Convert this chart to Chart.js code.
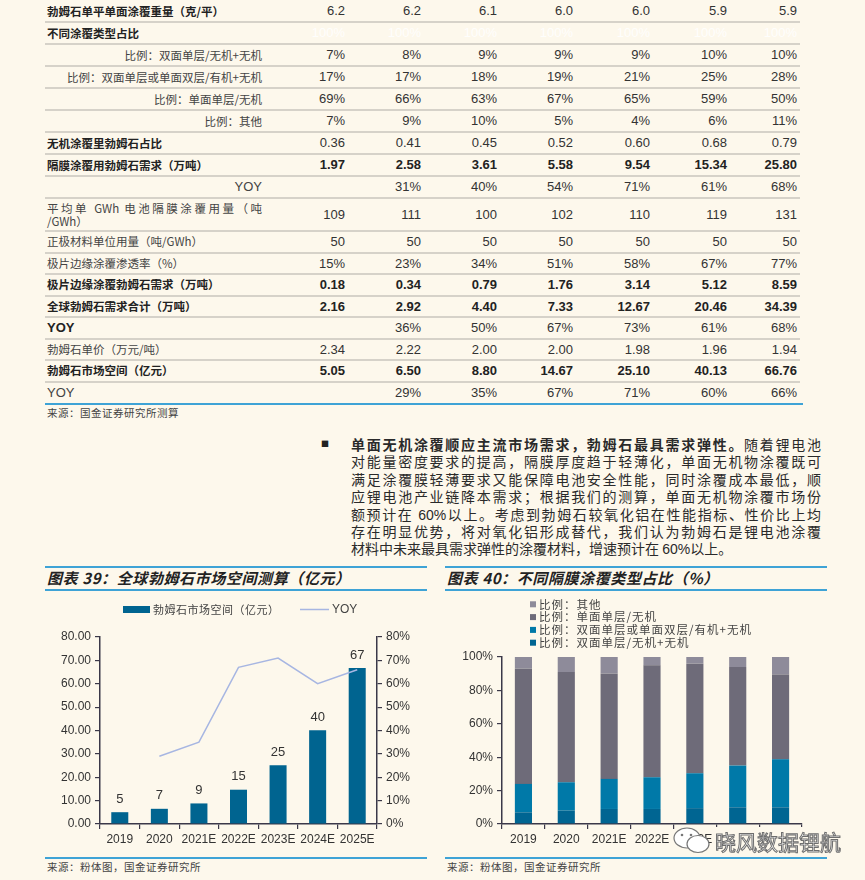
<!DOCTYPE html>
<html>
<head>
<meta charset="utf-8">
<script src="https://cdn.jsdelivr.net/npm/chart.js@4.4.0/dist/chart.umd.min.js"></script>
<style>
  html, body { margin: 0; padding: 0; }
  body { width: 865px; height: 880px; background: #fdf8ec; position: relative; overflow: hidden;
         font-family: "Noto Sans CJK SC", "Liberation Sans", sans-serif; color: #333; }
  .abs { position: absolute; }
  .row { position: absolute; left: 45px; width: 755px; border-bottom: 2px solid #d6d2c9; box-sizing: border-box; }
  .lbl { position: absolute; left: 2px; width: 215px; font-size: 11.5px; color: #444; white-space: nowrap; }
  .lbl.b { font-weight: bold; color: #222; }
  .lbl.r { text-align: right; }
  .val { position: absolute; font-family: "Liberation Sans", Arial, sans-serif; font-size: 13px; color: #333; text-align: right; width: 60px; }
  .val.b { font-weight: bold; color: #222; }
  .val.faint { color: rgba(255,255,255,0.9); }
  .para div { height: 17.4px; line-height: 17.4px; font-size: 14px; color: #2a2a2a; white-space: nowrap; }
  .para .j { text-align: justify; text-align-last: justify; }
  .num { font-family: "Liberation Sans", Arial, sans-serif; }
  .rule { position: absolute; height: 2px; background: #3ea3d6; }
  .title { position: absolute; font-size: 15px; font-weight: bold; font-style: italic; color: #222; letter-spacing: 0.6px; }
  .src { position: absolute; font-size: 10.5px; color: #444; letter-spacing: 0.5px; }
</style>
</head>
<body>

<div id="table"></div>
<div class="rule" style="left:45px; top:403px; width:758px;"></div>
<div class="src" style="left:47px; top:405px;">来源：国金证券研究所测算</div>

<div class="abs" style="left:321px; top:438px; font-size:8px; color:#222;">■</div>
<div class="para abs" style="left:351px; top:436px; width:470px;">
  <div class="j"><b>单面无机涂覆顺应主流市场需求，勃姆石最具需求弹性。</b>随着锂电池</div>
  <div class="j">对能量密度要求的提高，隔膜厚度趋于轻薄化，单面无机物涂覆既可</div>
  <div class="j">满足涂覆膜轻薄要求又能保障电池安全性能，同时涂覆成本最低，顺</div>
  <div class="j">应锂电池产业链降本需求；根据我们的测算，单面无机物涂覆市场份</div>
  <div class="j">额预计在 <span class="num">60%</span>以上。考虑到勃姆石较氧化铝在性能指标、性价比上均</div>
  <div class="j">存在明显优势，将对氧化铝形成替代，我们认为勃姆石是锂电池涂覆</div>
  <div>材料中未来最具需求弹性的涂覆材料，增速预计在 <span class="num">60%</span>以上。</div>
</div>

<div class="rule" style="left:45px; top:566px; width:382px;"></div>
<div class="rule" style="left:45px; top:589px; width:382px;"></div>
<div class="title" style="left:47px; top:567px;">图表 39：全球勃姆石市场空间测算（亿元）</div>
<div class="rule" style="left:445px; top:566px; width:382px;"></div>
<div class="rule" style="left:445px; top:589px; width:382px;"></div>
<div class="title" style="left:447px; top:567px;">图表 40：不同隔膜涂覆类型占比（%）</div>

<canvas id="marketChart" class="abs" width="382" height="255" style="left:45px; top:595px;"></canvas>
<canvas id="shareChart" class="abs" width="382" height="255" style="left:445px; top:595px;"></canvas>

<div class="rule" style="left:45px; top:857px; width:382px;"></div>
<div class="src" style="left:47px; top:859px;">来源：粉体图，国金证券研究所</div>
<div class="rule" style="left:445px; top:857px; width:382px;"></div>
<div class="src" style="left:447px; top:859px;">来源：粉体图，国金证券研究所</div>

<!-- watermark -->
<svg class="abs" style="left:672px; top:826px;" width="42" height="30" viewBox="0 0 42 30">
  <ellipse cx="15" cy="12" rx="13" ry="10" fill="#fff" stroke="#777" stroke-width="1.2"/>
  <ellipse cx="26" cy="18" rx="11" ry="8.5" fill="#fff" stroke="#777" stroke-width="1.2"/>
  <circle cx="10" cy="9" r="1.3" fill="#777"/><circle cx="19" cy="9" r="1.3" fill="#777"/>
</svg>
<div class="abs" style="left:713px; top:827px; padding:0 2px; background:#fdf8ec; font-size:21px; color:#fff; -webkit-text-stroke:1px #6e6e6e; line-height:28px;">晓风数据锂航</div>

<script>
// ---- table data ----
const tableValueRight = [345, 421, 497, 573, 650, 727, 797];
const tableRows = [
  ['勃姆石单平单面涂覆重量（克/平）', ['6.2', '6.2', '6.1', '6.0', '6.0', '5.9', '5.9'], 'head'],
  ['不同涂覆类型占比', ['100%', '100%', '100%', '100%', '100%', '100%', '100%'], 'faint'],
  ['比例：双面单层/无机+无机', ['7%', '8%', '9%', '9%', '9%', '10%', '10%'], 'sub'],
  ['比例：双面单层或单面双层/有机+无机', ['17%', '17%', '18%', '19%', '21%', '25%', '28%'], 'sub'],
  ['比例：单面单层/无机', ['69%', '66%', '63%', '67%', '65%', '59%', '50%'], 'sub'],
  ['比例：其他', ['7%', '9%', '10%', '5%', '4%', '6%', '11%'], 'sub'],
  ['无机涂覆里勃姆石占比', ['0.36', '0.41', '0.45', '0.52', '0.60', '0.68', '0.79'], 'head'],
  ['隔膜涂覆用勃姆石需求（万吨）', ['1.97', '2.58', '3.61', '5.58', '9.54', '15.34', '25.80'], 'bold'],
  ['YOY', ['', '31%', '40%', '54%', '71%', '61%', '68%'], 'sub'],
  ['平均单 GWh 电池隔膜涂覆用量（吨/GWh）', ['109', '111', '100', '102', '110', '119', '131'], 'wrap'],
  ['正极材料单位用量（吨/GWh）', ['50', '50', '50', '50', '50', '50', '50'], 'plain'],
  ['极片边缘涂覆渗透率（%）', ['15%', '23%', '34%', '51%', '58%', '67%', '77%'], 'plain'],
  ['极片边缘涂覆勃姆石需求（万吨）', ['0.18', '0.34', '0.79', '1.76', '3.14', '5.12', '8.59'], 'bold'],
  ['全球勃姆石需求合计（万吨）', ['2.16', '2.92', '4.40', '7.33', '12.67', '20.46', '34.39'], 'bold'],
  ['YOY', ['', '36%', '50%', '67%', '73%', '61%', '68%'], 'head'],
  ['勃姆石单价（万元/吨）', ['2.34', '2.22', '2.00', '2.00', '1.98', '1.96', '1.94'], 'plain'],
  ['勃姆石市场空间（亿元）', ['5.05', '6.50', '8.80', '14.67', '25.10', '40.13', '66.76'], 'bold'],
  ['YOY', ['', '29%', '35%', '67%', '71%', '60%', '66%'], 'plain']
];

// ---- chart data ----
const years = ['2019', '2020', '2021E', '2022E', '2023E', '2024E', '2025E'];
const marketSize = [5.05, 6.50, 8.80, 14.67, 25.10, 40.13, 66.76];
const marketYoy = [null, 29, 35, 67, 71, 60, 66];
const leftTicks = [0, 10, 20, 30, 40, 50, 60, 70, 80];

// stacked shares (they reach 100% in every year)
const shareInorganic2 = [7, 8, 9, 9, 9.5, 10, 10];
const shareOrganic = [17, 17, 18, 19, 20.9, 25, 28.8];
const shareSingle = [69, 66, 63, 67, 65.6, 59, 50.7];
const shareOther = [7, 9, 10, 5, 4, 6, 10.5];

// build the table
const table = document.getElementById("table");
let rowTop = 1;
tableRows.forEach((r, i) => {
  const [label, values, kind] = r;
  const h = i < 9 ? 22 : (i === 9 ? 33 : 21.5);
  const row = document.createElement("div");
  row.className = "row";
  row.style.top = rowTop + "px";
  row.style.height = h + "px";
  if (i === tableRows.length - 1) row.style.borderBottom = "none";

  const lbl = document.createElement("div");
  lbl.className = "lbl";
  if (kind === "head" || kind === "bold" || kind === "faint") lbl.className += " b";
  if (kind === "sub") lbl.className += " r";
  if (label === "YOY") { lbl.style.fontFamily = "'Liberation Sans', Arial, sans-serif"; lbl.style.fontSize = "13px"; }
  if (kind === "wrap") {
    lbl.style.whiteSpace = "normal";
    lbl.style.lineHeight = "13px";
    lbl.style.top = "3px";
    lbl.innerHTML = '<div style="text-align:justify;text-align-last:justify;">平均单 GWh 电池隔膜涂覆用量（吨</div><div>/GWh）</div>';
  } else {
    lbl.textContent = label;
    lbl.style.lineHeight = (h - 2) + "px";
  }
  row.appendChild(lbl);

  values.forEach((v, j) => {
    const s = document.createElement("div");
    s.className = "val";
    if (kind === "bold") s.className += " b";
    if (kind === "faint") s.className += " faint";
    s.style.left = (tableValueRight[j] - 45 - 60) + "px";
    s.style.lineHeight = (h - 2) + "px";
    s.textContent = v;
    row.appendChild(s);
  });
  table.appendChild(row);
  rowTop += h;
});

Chart.defaults.font.family = "'Liberation Sans', Arial, sans-serif";
Chart.defaults.font.size = 12;
Chart.defaults.color = "#333";

const axisColor = "#3b3849";
const barBlue = "#006490";

// value labels above bars
const barLabels = {
  id: "barLabels",
  afterDatasetsDraw(chart) {
    const meta = chart.getDatasetMeta(1);
    const ctx = chart.ctx;
    ctx.save();
    ctx.font = "13px 'Liberation Sans', Arial, sans-serif";
    ctx.fillStyle = "#333";
    ctx.textAlign = "center";
    ctx.textBaseline = "middle";
    meta.data.forEach((bar, i) => {
      ctx.fillText(Math.round(marketSize[i]), bar.x, bar.y - 13);
    });
    ctx.restore();
  }
};

// legend for market chart
const marketLegend = {
  id: "marketLegend",
  afterDraw(chart) {
    const ctx = chart.ctx;
    const ds = chart.data.datasets;
    ctx.save();
    ctx.fillStyle = ds[1].backgroundColor;
    ctx.fillRect(78, 11, 27, 7);
    ctx.font = "11px 'Noto Sans CJK SC'";
    ctx.letterSpacing = "0.5px";
    ctx.fillStyle = "#444";
    ctx.textBaseline = "middle";
    ctx.fillText(ds[1].label, 108, 14.5);
    ctx.strokeStyle = ds[0].borderColor;
    ctx.lineWidth = 1.5;
    ctx.beginPath();
    ctx.moveTo(255, 14.5);
    ctx.lineTo(284, 14.5);
    ctx.stroke();
    ctx.letterSpacing = "0px";
    ctx.font = "12px 'Liberation Sans', Arial, sans-serif";
    ctx.fillText(ds[0].label, 287, 15);
    ctx.restore();
  }
};

// stacked legend, listed top to bottom in reverse order
const shareLegend = {
  id: "shareLegend",
  afterDraw(chart) {
    const ctx = chart.ctx;
    const ds = chart.data.datasets.slice().reverse();
    ctx.save();
    ctx.font = "11.5px 'Noto Sans CJK SC'";
    ctx.letterSpacing = "1px";
    ctx.textBaseline = "middle";
    ds.forEach((d, i) => {
      const y = 9.3 + i * 12.8;
      ctx.fillStyle = d.backgroundColor;
      ctx.fillRect(85, y - 3, 6, 6);
      ctx.fillStyle = "#444";
      ctx.fillText(d.label, 94, y);
    });
    ctx.restore();
  }
};

function fixedWidth(w) { return function (scale) { scale.width = w; }; }
function fixedHeight(h) { return function (scale) { scale.height = h; }; }

const axisGrid = {
  drawOnChartArea: false,
  drawTicks: true,
  tickLength: 5,
  color: axisColor,
  lineWidth: 1.2
};
const axisBorder = { display: true, color: axisColor, width: 1.5 };

new Chart(document.getElementById("marketChart"), {
  data: {
    labels: years,
    datasets: [
      {
        type: "line",
        label: "YOY",
        data: marketYoy,
        yAxisID: "y1",
        borderColor: "#a7b6e2",
        borderWidth: 1.5,
        pointRadius: 0,
        tension: 0,
        spanGaps: false,
        order: 0
      },
      {
        type: "bar",
        label: "勃姆石市场空间（亿元）",
        data: marketSize,
        yAxisID: "y",
        backgroundColor: barBlue,
        categoryPercentage: 1,
        barPercentage: 0.43,
        order: 1
      }
    ]
  },
  options: {
    responsive: false,
    animation: false,
    layout: { padding: { top: 42, left: 0, right: 0, bottom: 0 } },
    plugins: { legend: { display: false }, tooltip: { enabled: false } },
    scales: {
      x: {
        grid: Object.assign({ offset: true }, axisGrid),
        border: axisBorder,
        ticks: { padding: 3, font: { size: 12 }, maxRotation: 0, autoSkip: false },
        afterFit: fixedHeight(26)
      },
      y: {
        position: "left",
        min: 0,
        max: 80,
        afterBuildTicks(scale) { scale.ticks = leftTicks.map(v => ({ value: v })); },
        ticks: { padding: 4, callback: v => v.toFixed(2) },
        grid: axisGrid,
        border: axisBorder,
        afterFit: fixedWidth(55)
      },
      y1: {
        position: "right",
        min: 0,
        max: 80,
        afterBuildTicks(scale) { scale.ticks = leftTicks.map(v => ({ value: v })); },
        ticks: { padding: 4, callback: v => v + "%" },
        grid: axisGrid,
        border: axisBorder,
        afterFit: fixedWidth(50)
      }
    }
  },
  plugins: [barLabels, marketLegend]
});

new Chart(document.getElementById("shareChart"), {
  type: "bar",
  data: {
    labels: years,
    datasets: [
      { label: "比例：双面单层/无机+无机", data: shareInorganic2, backgroundColor: "#006592" },
      { label: "比例：双面单层或单面双层/有机+无机", data: shareOrganic, backgroundColor: "#0079a8" },
      { label: "比例：单面单层/无机", data: shareSingle, backgroundColor: "#6e6b79" },
      { label: "比例：其他", data: shareOther, backgroundColor: "#8e8b9a" }
    ]
  },
  options: {
    responsive: false,
    animation: false,
    datasets: { bar: { categoryPercentage: 1, barPercentage: 0.4 } },
    layout: { padding: { top: 62, left: 0, right: 25, bottom: 0 } },
    plugins: { legend: { display: false }, tooltip: { enabled: false } },
    scales: {
      x: {
        stacked: true,
        grid: Object.assign({ offset: true }, axisGrid),
        border: axisBorder,
        ticks: { padding: 3, font: { size: 12 }, maxRotation: 0, autoSkip: false },
        afterFit: fixedHeight(26)
      },
      y: {
        stacked: true,
        min: 0,
        max: 100,
        ticks: { stepSize: 20, padding: 4, callback: v => v + "%" },
        grid: axisGrid,
        border: axisBorder,
        afterFit: fixedWidth(57)
      }
    }
  },
  plugins: [shareLegend]
});
</script>
</body>
</html>
